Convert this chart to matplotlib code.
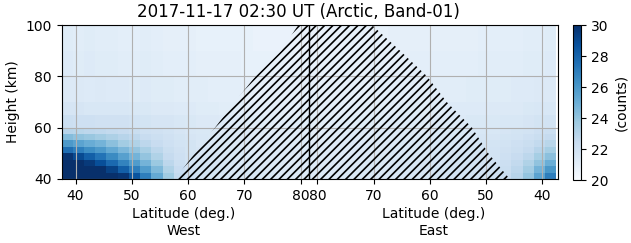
#! /bin/env python

# Latitude-height map of counts along one pass, West half then East half.

import numpy as np
import matplotlib
matplotlib.use("Agg")
import matplotlib.pyplot as plt
from matplotlib.transforms import blended_transform_factory


POLE = 81.5  # highest latitude of the pass, where West turns into East

height_edges = [40, 42.5, 45, 47.5, 50, 52.5, 55, 57.5, 60, 65, 70, 80, 90, 100]

# West bins, from 37.5 up to the pole, 2 deg wide
west_lat_edges = [37.5, 39.5, 41.5, 43.5, 45.5, 47.5, 49.5, 51.5, 53.5, 55.5, 57.5, 59.5,
                  61.5, 63.5, 65.5, 67.5, 69.5, 71.5, 73.5, 75.5, 77.5, 79.5, 81.5]
# East bins, from the pole down to 37.5
east_lat_edges = [81.5, 79.5, 77.5, 75.5, 73.5, 71.5, 69.5, 67.5, 65.5, 63.5, 61.5, 59.5,
                  57.5, 55.5, 53.5, 51.5, 49.5, 47.5, 45.5, 43.5, 41.5, 39.5, 37.5]

# counts per latitude bin (one list per bin, bottom to top)
counts_west = [
    [31.0, 31.0, 30.5, 29.8, 27.6, 25.9, 24.4, 23.0, 22.2, 21.7, 21.4, 21.3, 21.2],
    [31.0, 31.0, 30.3, 29.0, 27.0, 25.5, 24.1, 22.9, 22.1, 21.7, 21.4, 21.2, 21.1],
    [31.0, 30.8, 29.6, 28.2, 26.4, 25.1, 23.9, 22.8, 22.1, 21.6, 21.3, 21.3, 21.2],
    [31.0, 30.2, 28.8, 27.4, 25.9, 24.8, 23.6, 22.7, 22.0, 21.6, 21.4, 21.2, 21.1],
    [30.5, 29.3, 27.8, 26.5, 25.2, 24.2, 23.3, 22.6, 22.0, 21.6, 21.3, 21.2, 21.1],
    [29.8, 28.2, 26.8, 25.6, 24.6, 23.6, 23.0, 22.5, 22.0, 21.6, 21.3, 21.1, 21.0],
    [28.6, 27.0, 25.8, 24.8, 24.0, 23.2, 22.7, 22.3, 21.9, 21.5, 21.2, 21.1, 21.0],
    [27.0, 25.8, 24.8, 24.0, 23.4, 22.8, 22.4, 22.1, 21.8, 21.5, 21.3, 21.2, 21.1],
    [25.2, 24.5, 23.8, 23.2, 22.8, 22.4, 22.2, 22.0, 21.7, 21.4, 21.2, 21.1, 21.0],
    [23.7, 23.2, 22.8, 22.5, 22.3, 22.1, 22.0, 21.9, 21.7, 21.4, 21.2, 21.0, 20.9],
    [22.6, 22.4, 22.2, 22.1, 22.0, 21.9, 21.8, 21.7, 21.6, 21.3, 21.1, 21.0, 20.9],
    [22.1, 22.0, 21.9, 21.9, 21.8, 21.8, 21.7, 21.6, 21.5, 21.3, 21.1, 21.0, 20.9],
    [21.9, 21.8, 21.8, 21.7, 21.7, 21.6, 21.6, 21.5, 21.4, 21.2, 21.1, 20.9, 20.8],
    [21.8, 21.8, 21.7, 21.7, 21.6, 21.6, 21.5, 21.5, 21.4, 21.2, 21.0, 20.9, 20.8],
    [21.7, 21.7, 21.6, 21.6, 21.5, 21.5, 21.5, 21.4, 21.3, 21.1, 21.0, 20.9, 20.8],
    [21.6, 21.6, 21.6, 21.5, 21.5, 21.4, 21.4, 21.4, 21.3, 21.1, 21.0, 20.9, 20.8],
    [21.6, 21.5, 21.5, 21.5, 21.4, 21.4, 21.4, 21.3, 21.2, 21.1, 20.9, 20.8, 20.8],
    [21.5, 21.5, 21.4, 21.4, 21.4, 21.3, 21.3, 21.3, 21.2, 21.0, 20.9, 20.8, 20.7],
    [21.5, 21.4, 21.4, 21.4, 21.3, 21.3, 21.3, 21.2, 21.1, 21.0, 20.9, 20.8, 20.7],
    [21.4, 21.4, 21.4, 21.3, 21.3, 21.3, 21.2, 21.2, 21.1, 21.0, 20.9, 20.8, 20.7],
    [21.4, 21.4, 21.3, 21.3, 21.3, 21.2, 21.2, 21.2, 21.1, 21.0, 20.9, 20.8, 20.7],
    [21.4, 21.3, 21.3, 21.3, 21.2, 21.2, 21.2, 21.1, 21.1, 21.0, 20.9, 20.8, 20.7],
]
counts_east = [
    [21.4, 21.3, 21.3, 21.3, 21.2, 21.2, 21.2, 21.1, 21.1, 21.0, 20.9, 20.8, 20.7],
    [21.4, 21.4, 21.3, 21.3, 21.3, 21.2, 21.2, 21.2, 21.1, 21.0, 20.9, 20.8, 20.7],
    [21.4, 21.4, 21.4, 21.3, 21.3, 21.3, 21.2, 21.2, 21.1, 21.0, 20.9, 20.8, 20.7],
    [21.5, 21.4, 21.4, 21.4, 21.3, 21.3, 21.3, 21.2, 21.1, 21.0, 20.9, 20.8, 20.8],
    [21.5, 21.5, 21.4, 21.4, 21.4, 21.3, 21.3, 21.3, 21.2, 21.0, 20.9, 20.8, 20.8],
    [21.5, 21.5, 21.5, 21.4, 21.4, 21.4, 21.3, 21.3, 21.2, 21.1, 20.9, 20.9, 20.8],
    [21.6, 21.5, 21.5, 21.5, 21.4, 21.4, 21.4, 21.3, 21.2, 21.1, 21.0, 20.9, 20.8],
    [21.6, 21.6, 21.5, 21.5, 21.5, 21.4, 21.4, 21.4, 21.3, 21.1, 21.0, 20.9, 20.9],
    [21.7, 21.6, 21.6, 21.5, 21.5, 21.5, 21.4, 21.4, 21.3, 21.2, 21.0, 20.9, 20.9],
    [21.7, 21.7, 21.6, 21.6, 21.5, 21.5, 21.5, 21.4, 21.3, 21.2, 21.1, 21.0, 20.9],
    [21.8, 21.7, 21.7, 21.6, 21.6, 21.5, 21.5, 21.4, 21.3, 21.2, 21.1, 21.0, 20.9],
    [21.8, 21.8, 21.7, 21.7, 21.6, 21.6, 21.5, 21.5, 21.4, 21.2, 21.1, 21.0, 20.9],
    [21.9, 21.8, 21.8, 21.7, 21.7, 21.6, 21.6, 21.5, 21.4, 21.3, 21.1, 21.0, 20.9],
    [21.9, 21.9, 21.8, 21.8, 21.7, 21.7, 21.6, 21.5, 21.4, 21.3, 21.1, 21.0, 20.9],
    [22.0, 21.9, 21.9, 21.8, 21.8, 21.7, 21.6, 21.6, 21.5, 21.3, 21.2, 21.0, 20.9],
    [22.0, 22.0, 21.9, 21.9, 21.8, 21.8, 21.7, 21.6, 21.5, 21.3, 21.2, 21.1, 21.0],
    [22.1, 22.0, 22.0, 21.9, 21.9, 21.8, 21.7, 21.6, 21.5, 21.4, 21.2, 21.1, 21.0],
    [22.4, 22.3, 22.2, 22.1, 22.0, 21.9, 21.8, 21.7, 21.6, 21.4, 21.2, 21.1, 21.0],
    [23.0, 22.8, 22.6, 22.4, 22.2, 22.1, 21.9, 21.8, 21.6, 21.4, 21.3, 21.1, 21.0],
    [24.0, 23.6, 23.2, 22.8, 22.5, 22.3, 22.1, 21.9, 21.7, 21.5, 21.3, 21.2, 21.1],
    [25.5, 24.8, 24.1, 23.5, 23.0, 22.6, 22.3, 22.1, 21.8, 21.6, 21.4, 21.2, 21.1],
    [27.0, 26.0, 25.0, 24.2, 23.5, 22.9, 22.5, 22.2, 21.9, 21.6, 21.4, 21.3, 21.2],
]

# region with no valid data (hatched)
hatch_heights = [40, 50, 60, 70, 80, 90, 100]
hatch_west_lat = [57.7, 61.2, 64.8, 68.3, 72.0, 76.6, 79.6]
hatch_east_lat = [45.8, 49.6, 52.5, 57.0, 60.5, 65.3, 70.3]

tick_lats = [40, 50, 60, 70, 80]


def east_to_x(lat):
    # East latitudes are folded onto the same axis, past the pole
    return 2 * POLE - np.asarray(lat, dtype=float)


def plot_map():
    plt.rcParams["hatch.linewidth"] = 1.2

    x_edges = np.concatenate([west_lat_edges, east_to_x(east_lat_edges)[1:]])
    counts = np.array(counts_west + counts_east).T

    fig = plt.figure(figsize=(6.31, 2.43), dpi=100)
    ax = fig.add_axes([61.5 / 631, 64 / 243, 496 / 631, 154 / 243])
    cax = fig.add_axes([572.5 / 631, 63 / 243, 8.5 / 631, 155 / 243])

    mesh = ax.pcolormesh(x_edges, height_edges, counts, cmap="Blues",
                         vmin=20, vmax=30, shading="flat")

    ax.fill_betweenx(hatch_heights, hatch_west_lat, east_to_x(hatch_east_lat),
                     hatch="////", facecolor="none", edgecolor="k", linewidth=0,
                     zorder=2)
    ax.axvline(POLE, color="k", lw=1.0, zorder=3)

    xt = list(tick_lats) + list(east_to_x(tick_lats[::-1]))
    xl = [str(t) for t in tick_lats] + [str(t) for t in tick_lats[::-1]]
    ax.set_xticks(xt)
    ax.set_xticklabels(xl)
    ax.set_yticks([40, 60, 80, 100])
    ax.set_xlim(37.5, east_to_x(37.3))
    ax.set_ylim(40, 100)
    ax.grid(True)
    ax.set_ylabel("Height (km)")

    trans = blended_transform_factory(ax.transData, ax.transAxes)
    ax.text((37.5 + POLE) / 2 - 0.3, -0.185, "Latitude (deg.)\nWest",
            ha="center", va="top", transform=trans, fontsize=10)
    ax.text((POLE + east_to_x(37.3)) / 2, -0.185, "Latitude (deg.)\nEast",
            ha="center", va="top", transform=trans, fontsize=10)

    ax.set_title("2017-11-17 02:30 UT (Arctic, Band-01)", fontsize=12,
                 x=(298 - 61.5) / 496)

    cb = fig.colorbar(mesh, cax=cax)
    cb.set_ticks([20, 22, 24, 26, 28, 30])
    cb.set_label("(counts)")

    fig.savefig("out.png", dpi=100)


if __name__ == "__main__":
    plot_map()
